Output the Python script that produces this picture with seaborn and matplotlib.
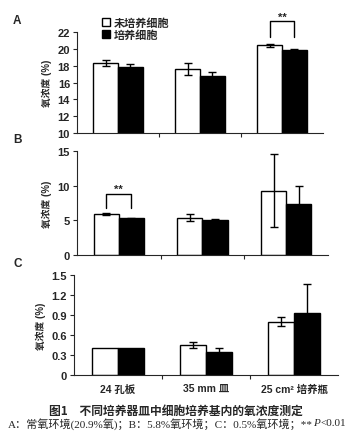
import matplotlib
matplotlib.use("Agg")
import matplotlib.pyplot as plt
import seaborn as sns
import pandas as pd

sns.set_style("ticks")
plt.rcParams['font.family'] = ['Liberation Sans', 'Noto Sans CJK SC', 'DejaVu Sans']
plt.rcParams['axes.linewidth'] = 0.8

# ---------------- data ----------------
vessels = ["24 孔板", "35 mm 皿", "25 cm² 培养瓶"]
groups = ["未培养细胞", "培养细胞"]

a_uncult = [18.3, 17.6, 20.4]
a_cult = [17.8, 16.8, 19.85]
a_uncult_err = [0.35, 0.75, 0.15]
a_cult_err = [0.35, 0.5, 0.08]

b_uncult = [5.9, 5.4, 9.3]
b_cult = [5.3, 5.0, 7.3]
b_uncult_err = [0.1, 0.55, 5.3]
b_cult_err = [0.1, 0.15, 2.7]

c_uncult = [0.40, 0.45, 0.80]
c_cult = [0.40, 0.35, 0.93]
c_uncult_err = [0.0, 0.05, 0.07]
c_cult_err = [0.0, 0.05, 0.44]

ylims = [(10, 22), (0, 15), (0, 1.5)]
yticks = [[10, 12, 14, 16, 18, 20, 22], [0, 5, 10, 15], [0, 0.3, 0.6, 0.9, 1.2, 1.5]]
ytick_labels = [[str(t) for t in yticks[0]], [str(t) for t in yticks[1]],
                ["0", "0.3", "0.6", "0.9", "1.2", "1.5"]]
panel_names = ["A", "B", "C"]

panels = [
    (a_uncult, a_cult, a_uncult_err, a_cult_err),
    (b_uncult, b_cult, b_uncult_err, b_cult_err),
    (c_uncult, c_cult, c_uncult_err, c_cult_err),
]

W, H = 355, 435
fig = plt.figure(figsize=(W / 100, H / 100), dpi=100)

# axes rectangles in pixels: left, top, right, bottom
rects = [(77, 33, 323, 134), (77, 152, 328, 256), (74, 276, 338, 376)]

axes = []
for k, (vals_u, vals_c, err_u, err_c) in enumerate(panels):
    l, t, r, b = rects[k]
    ax = fig.add_axes([l / W, (H - b) / H, (r - l) / W, (b - t) / H])
    df = pd.DataFrame({
        "vessel": vessels * 2,
        "group": [groups[0]] * 3 + [groups[1]] * 3,
        "value": vals_u + vals_c,
    })
    sns.barplot(data=df, x="vessel", y="value", hue="group", order=vessels,
                hue_order=groups, palette=["white", "black"], edgecolor="black",
                linewidth=1, width=0.6, errorbar=None, ax=ax, legend=(k == 0))
    for cont, errs in zip(ax.containers, [err_u, err_c]):
        xs = [p.get_x() + p.get_width() / 2 for p in cont]
        hs = [p.get_height() for p in cont]
        for x, h, e in zip(xs, hs, errs):
            if e > 0:
                ax.errorbar(x, h, yerr=e, fmt="none", ecolor="black",
                            elinewidth=1, capsize=3, capthick=1, zorder=3)
    ax.set_ylim(*ylims[k])
    ax.set_yticks(yticks[k])
    ax.set_yticklabels(ytick_labels[k], fontsize=8, fontweight="bold")
    ax.set_xlim(-0.5, 2.5)
    ax.set_xlabel("")
    ax.set_ylabel("氧浓度 (%)", fontsize=7, fontweight="bold", labelpad=4)
    ax.set_xticks([0.5, 1.5], minor=True)
    ax.tick_params(axis="x", which="minor", length=3, width=0.8, direction="out")
    ax.tick_params(axis="y", length=3, width=0.8, pad=2)
    if k < 2:
        ax.set_xticks([0, 1, 2])
        ax.set_xticklabels([])
        ax.tick_params(axis="x", which="major", length=0)
    else:
        ax.tick_params(axis="x", which="major", length=0, pad=6)
        for lab in ax.get_xticklabels():
            lab.set_fontsize(7.5)
            lab.set_fontweight("bold")
    sns.despine(ax=ax)
    fig.text(13 / W, (H - rects[k][1] + 12) / H, panel_names[k], fontsize=8.5,
             fontweight="bold", va="center", ha="left")
    axes.append(ax)

# legend
axA = axes[0]
handles, labels = axA.get_legend_handles_labels()
axA.legend(handles, labels, loc="upper left", bbox_to_anchor=(96 / W, 1 - 13 / H),
           bbox_transform=fig.transFigure, frameon=False,
           handlelength=0.75, handleheight=0.75, handletextpad=0.35,
           labelspacing=0.1, borderpad=0, prop={"weight": "bold", "size": 8})


def bracket(ax, cont_pair, idx, low, high):
    x1 = cont_pair[0][idx].get_x() + cont_pair[0][idx].get_width() / 2
    x2 = cont_pair[1][idx].get_x() + cont_pair[1][idx].get_width() / 2
    ax.plot([x1, x1, x2, x2], [low, high, high, low], color="black", lw=1,
            clip_on=False)
    ax.text((x1 + x2) / 2, high, "**", ha="center", va="bottom", fontsize=8,
            fontweight="bold")


bracket(axes[0], axes[0].containers, 2, a_uncult[2] + 1.05, a_uncult[2] + 2.85)
bracket(axes[1], axes[1].containers, 0, b_uncult[0] + 0.9, b_uncult[0] + 2.9)

fig.text(176 / W, 1 - 411 / H, "图1　不同培养器皿中细胞培养基内的氧浓度测定",
         ha="center", va="center", fontsize=8.5, fontweight="bold",
         family=["Noto Sans CJK SC"])

# second caption line: plain part + italic P + rest, placed one after another
fig.canvas.draw()
renderer = fig.canvas.get_renderer()
cap_font = ["Liberation Serif", "Noto Sans CJK SC"]
parts = [("A：常氧环境(20.9%氧)；B：5.8%氧环境；C：0.5%氧环境；**", "normal"),
         ("P", "italic"), ("<0.01", "normal")]
widths = []
for txt, st in parts:
    t = fig.text(0, 0, txt, fontsize=8, style=st, family=cap_font)
    widths.append(t.get_window_extent(renderer).width)
    t.remove()
x0 = 177 - sum(widths) / 2
for (txt, st), w in zip(parts, widths):
    fig.text(x0 / W, 1 - 424 / H, txt, ha="left", va="center", fontsize=8,
             style=st, family=cap_font)
    x0 += w

fig.savefig("out.png", dpi=100)
